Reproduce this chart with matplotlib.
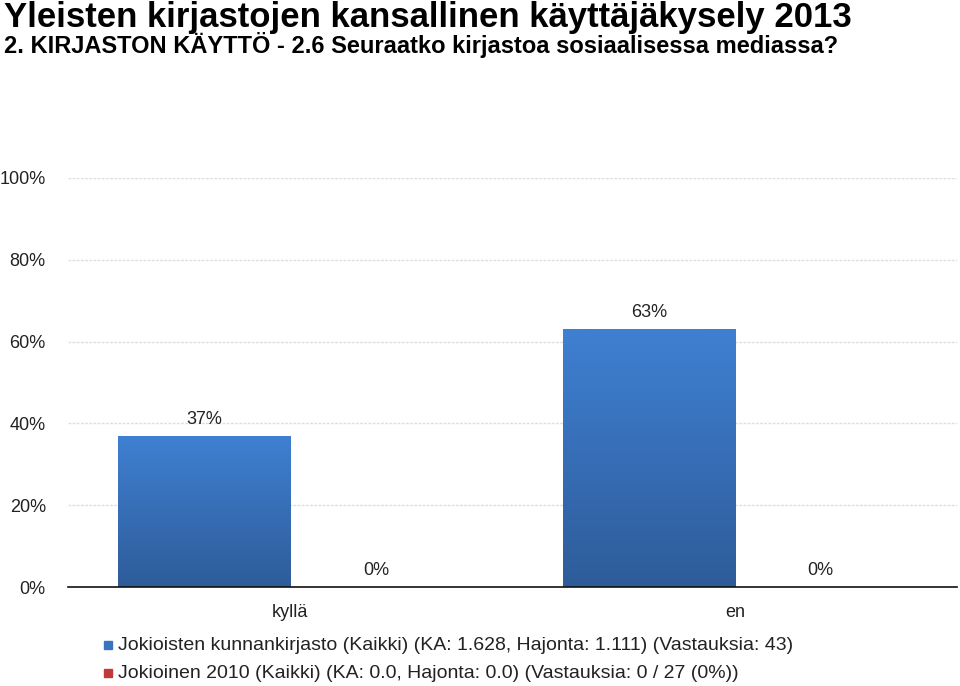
import matplotlib
matplotlib.use("Agg")
import matplotlib.pyplot as plt
import numpy as np
from matplotlib.colors import LinearSegmentedColormap

plt.rcParams['font.family'] = ['Liberation Sans', 'DejaVu Sans']

title = "Yleisten kirjastojen kansallinen käyttäjäkysely 2013"
subtitle = "2. KIRJASTON KÄYTTÖ - 2.6 Seuraatko kirjastoa sosiaalisessa mediassa?"
categories = ["kyllä", "en"]
series_names = ["Jokioisten kunnankirjasto (Kaikki) (KA: 1.628, Hajonta: 1.111) (Vastauksia: 43)",
                "Jokioinen 2010 (Kaikki) (KA: 0.0, Hajonta: 0.0) (Vastauksia: 0 / 27 (0%))"]
series1 = [37, 63]
series2 = [0, 0]
yticks = [0, 20, 40, 60, 80, 100]
ytick_labels = ["0%", "20%", "40%", "60%", "80%", "100%"]

fig = plt.figure(figsize=(9.6, 6.86), dpi=100)
ax = fig.add_axes([68/960, 1-587/686, 889/960, (587-178)/686])

fig.text(4/960, 1-17/686, title, fontsize=25, fontweight="bold", va="center", ha="left")
fig.text(4/960, 1-45/686, subtitle, fontsize=17, fontweight="bold", va="center", ha="left")

x = np.arange(len(categories))
w = 0.387
blue_top, blue_bot = "#3f80d2", "#2e5c99"
cmap = LinearSegmentedColormap.from_list("g", [blue_bot, blue_top])
bars1 = ax.bar(x - w/2, series1, w, color="#3a74c0", zorder=3)
bars2 = ax.bar(x + w/2, series2, w, color="#c0393b", zorder=3)
grad = np.linspace(0, 1, 256).reshape(-1, 1)
for b in bars1:
    x0, y0 = b.get_x(), b.get_y()
    im = ax.imshow(grad, cmap=cmap, origin="lower", aspect="auto",
                   extent=(x0, x0 + b.get_width(), y0, y0 + b.get_height()), zorder=3.5)
    im.set_clip_path(b)

for b, v in zip(list(bars1) + list(bars2), series1 + series2):
    ax.text(b.get_x() + b.get_width()/2, v + 4, f"{v}%", ha="center", va="center", fontsize=13, color="#222222")

ax.set_xlim(-0.5, 1.5)
ax.set_ylim(0, 100)
ax.set_yticks(yticks)
ax.set_yticklabels(ytick_labels, fontsize=13, color="#222222")
ax.set_xticks(x)
ax.set_xticklabels(categories, fontsize=13, color="#222222")
ax.tick_params(axis="y", length=0, pad=16)
ax.tick_params(axis="x", length=0, pad=12)
for s in ["top", "right", "left"]:
    ax.spines[s].set_visible(False)
ax.spines["bottom"].set_color("#111111")
ax.spines["bottom"].set_linewidth(1.2)
ax.spines["bottom"].set_zorder(5)
ax.yaxis.grid(True, color="#dcdfe2", linewidth=1.0, linestyle=(0, (2, 1)))
ax.set_axisbelow(True)

legend_y = [645, 673]
colors = ["#3a74c0", "#c0393b"]
for name, col, yy in zip(series_names, colors, legend_y):
    fig.patches.append(plt.Rectangle((104/960, 1-(yy+4)/686), 8/960, 8/686, transform=fig.transFigure, color=col))
    fig.text(118/960, 1-yy/686, name, fontsize=14, color="#222222", va="center", ha="left")

fig.savefig("out.png", dpi=100)
